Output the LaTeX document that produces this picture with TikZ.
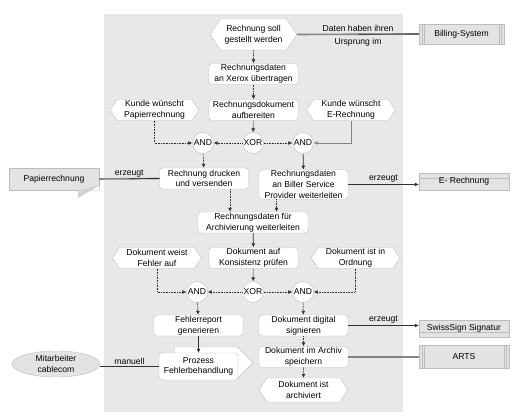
\documentclass[tikz,border=0pt]{standalone}
\usepackage{fontspec}
\setmainfont{Liberation Sans}
\usetikzlibrary{arrows.meta,shapes.symbols,shapes.geometric,calc}
\definecolor{fond}{HTML}{E8E8E8}
\definecolor{bord}{HTML}{BDBDBD}
\definecolor{objet}{HTML}{E3E3E3}
\definecolor{trait}{HTML}{303030}
\definecolor{lien}{HTML}{858585}
\begin{document}
\begin{tikzpicture}[x=1pt, y=-1pt, font=\fontsize{8.6}{10.6}\selectfont,
  funktion/.style={draw=bord, fill=white, rounded corners=3pt, minimum width=89pt, minimum height=21pt, inner sep=1pt, align=center},
  ereignis/.style={signal, signal to=west and east, signal pointer angle=112, draw=bord, fill=white, minimum width=89pt, minimum height=21pt, inner sep=1pt, align=center},
  konn/.style={circle, draw=bord, fill=white, minimum size=21pt, inner sep=0pt},
  objekt/.style={draw=bord, fill=objet, minimum width=90pt, minimum height=17pt, inner sep=1pt},
  system/.style={objekt, path picture={\foreach \s in {3,5}{
      \draw[bord] ([xshift=\s pt]path picture bounding box.north west) -- ([xshift=\s pt]path picture bounding box.south west);
      \draw[bord] ([xshift=-\s pt]path picture bounding box.north east) -- ([xshift=-\s pt]path picture bounding box.south east);}}},
  streifoben/.style={objekt, path picture={\draw[bord] ([yshift=-5pt]path picture bounding box.north west) -- ([yshift=-5pt]path picture bounding box.north east);}},
  streifunten/.style={objekt, path picture={\draw[bord] ([yshift=5pt]path picture bounding box.south west) -- ([yshift=5pt]path picture bounding box.south east);}},
  fluss/.style={draw=trait, line width=0.7pt, -{Latex[length=4pt,width=4pt]}},
  punkt/.style={fluss, dash pattern=on 0.8pt off 0.8pt},
  kante/.style={draw=lien, line width=1.6pt},
  duenn/.style={draw=trait, line width=0.7pt}]
\useasboundingbox (0,0) rectangle (516,419);
\fill[fond] (104,14) rectangle (403,412);
\node[ereignis, minimum width=87pt, minimum height=31pt] (e1) at (253.5,34.5) {Rechnung soll\\gestellt werden};
\foreach \n/\x/\y/\t in {e2/154.5/110/{Kunde wünscht\\Papierrechnung}, e3/351/110/{Kunde wünscht\\E-Rechnung},
    e4/157/258/{Dokument weist\\Fehler auf}, e5/355.5/258/{Dokument ist in\\Ordnung}}
  \node[ereignis] (\n) at (\x,\y) {\t};
\node[ereignis, minimum height=24pt] (e6) at (303.5,390) {Dokument ist\\archiviert};
\foreach \n/\x/\y/\t in {f1/253.5/74/{Rechnungsdaten\\an Xerox übertragen}, f2/253.5/110/{Rechnungsdokument\\aufbereiten},
    f3/204/178.5/{Rechnung drucken\\und versenden}, f4/303.5/184.5/{Rechnungsdaten\\an Biller Service\\Provider weiterleiten},
    f6/253.5/258/{Dokument auf\\Konsistenz prüfen}, f7/198.5/325.5/{Fehlerreport\\generieren},
    f8/303.5/325.5/{Dokument digital\\signieren}, f9/303.5/357/{Dokument im Archiv\\speichern}}
  \node[funktion] (\n) at (\x,\y) {\t};
\node[funktion, minimum width=110pt] (f5) at (253,222.5) {Rechnungsdaten für\\Archivierung weiterleiten};
\foreach \n/\x/\y/\t in {k1/203/143/AND, k2/253/143/XOR, k3/303/143/AND, k4/197/292/AND, k5/253/292/XOR, k6/303/292/AND}
  \node[konn] (\n) at (\x,\y) {\t};
\node[signal, signal to=east, draw=bord, fill=white, minimum width=79pt, minimum height=31pt] (procback) at (206,362.5) {};
\node[funktion, minimum width=79pt, minimum height=27pt] (proc) at (198.5,366.5) {Prozess\\Fehlerbehandlung};
\node[system, minimum width=85pt, minimum height=20pt] (billing) at (461.5,34) {Billing-System};
\node[system, minimum height=23pt] (arts) at (464,356.5) {ARTS};
\node[streifoben] (erech) at (464,181.5) {E- Rechnung};
\node[streifunten] (swiss) at (464,328.5) {SwissSign Signatur};
\node[ellipse, draw=bord, fill=objet, minimum width=88pt, minimum height=26pt, inner sep=0pt, align=center] (ma) at (56,364) {Mitarbeiter\\cablecom};
\node[objekt, minimum height=22pt] (papier) at (54,179) {Papierrechnung};
\fill[white] ([yshift=5pt]papier.south east) -- ([xshift=0.5pt,yshift=-0.5pt]papier.south east) -- ([xshift=-9pt,yshift=-0.5pt]papier.south east) -- cycle;
\fill[objet!85!gray] ([xshift=-21pt]papier.south east) -- ([xshift=-21pt,yshift=-7pt]papier.south east) -- ([yshift=5pt]papier.south east) -- cycle;
\draw[bord] ([xshift=-21pt]papier.south east) -- ([xshift=-21pt,yshift=-7pt]papier.south east) -- ([yshift=5pt]papier.south east);
\foreach \a/\b in {e1/f1, f1/f2, f2/k2, k1/f3, k4/f7, k6/f8, f8/f9, f9/e6, f6/k5}
  \draw[punkt] (\a) -- (\b);
\foreach \a/\b in {k2/k1, k2/k3, k5/k4, k5/k6}
  \draw[punkt] (\a) -- (\b);
\draw[punkt] (e2.south) |- (k1.west);
\draw[fluss, draw=lien] (e3.south) |- (k3.east);
\draw[punkt] (e4.south) |- (k4.west);
\draw[punkt] (e5.south) |- (k6.east);
\draw[fluss] (k3) -- (f4);
\draw[punkt] ([xshift=26pt]f3.south) -- ([xshift=26pt]f3.south |- f5.north);
\draw[punkt] ([xshift=-27pt]f4.south) -- ([xshift=-27pt]f4.south |- f5.north);
\draw[fluss] (f5) -- (f6);
\draw[fluss] (f7.south) -- (f7.south |- proc.north);
\draw[kante] (e1.east) -- (billing.west);
\draw[duenn] ($(e1.east)!0.5!(billing.west)$) -- (billing.west);
\path (e1.east) -- (billing.west) node[midway, above, inner sep=2pt] {Daten haben ihren} node[midway, below, inner sep=3.5pt] {Ursprung im};
\draw[kante] (papier.east) -- (f3.west);
\draw[duenn] ($(papier.east)!0.5!(f3.west)$) -- (f3.west) node[pos=0, above, inner sep=1.5pt] {erzeugt};
\draw[fluss] (f4.east) -- (f4.east -| erech.west) node[midway, above, inner sep=1.5pt] {erzeugt};
\draw[fluss] (f8.east) -- (f8.east -| swiss.west) node[midway, above, inner sep=1.5pt] {erzeugt};
\draw[kante] (f9.east) -- (f9.east -| arts.west);
\draw[duenn, line width=1pt] (proc.west) -- (proc.west -| ma.east) node[midway, above, inner sep=1.5pt] {manuell};
\end{tikzpicture}
\end{document}
